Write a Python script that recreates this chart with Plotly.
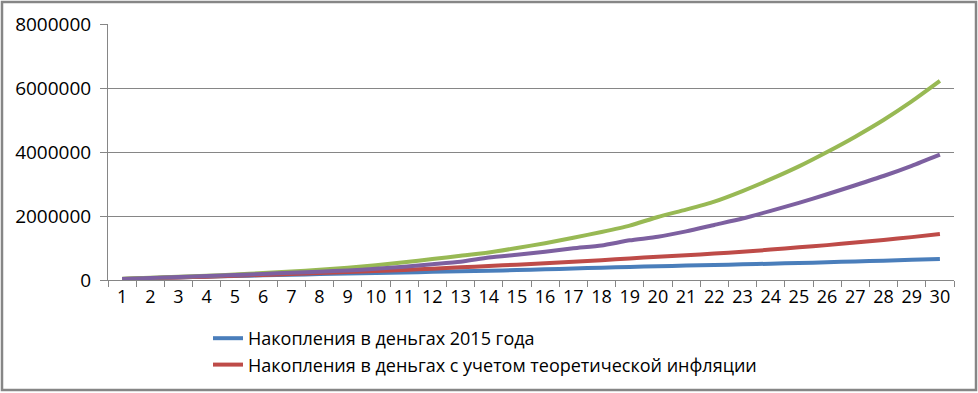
import plotly.graph_objects as go

years = list(range(1, 31))
year_labels = [str(y) for y in years]

blue_name = "Накопления в деньгах 2015 года"
red_name = "Накопления в деньгах с учетом теоретической инфляции"

blue = [30000, 55000, 80000, 105000, 125000, 145000, 165000, 185000, 200000, 220000,
        235000, 255000, 270000, 290000, 310000, 335000, 360000, 385000, 410000, 430000,
        450000, 470000, 490000, 510000, 530000, 555000, 580000, 605000, 630000, 660000]
red = [30000, 55000, 80000, 105000, 130000, 160000, 190000, 220000, 250000, 280000,
       315000, 355000, 395000, 440000, 480000, 525000, 570000, 620000, 670000, 730000,
       775000, 825000, 880000, 950000, 1020000, 1090000, 1170000, 1250000, 1340000, 1440000]
green = [40000, 70000, 100000, 135000, 170000, 215000, 265000, 320000, 385000, 460000,
         555000, 655000, 755000, 860000, 1000000, 1150000, 1320000, 1500000, 1700000, 1970000,
         2200000, 2450000, 2780000, 3150000, 3550000, 4000000, 4480000, 5000000, 5580000, 6220000]
purple = [35000, 65000, 95000, 125000, 155000, 190000, 225000, 260000, 300000, 350000,
          415000, 490000, 570000, 700000, 790000, 880000, 990000, 1080000, 1240000, 1350000,
          1520000, 1720000, 1920000, 2160000, 2410000, 2680000, 2960000, 3250000, 3570000, 3920000]

y_ticks = [0, 2000000, 4000000, 6000000, 8000000]

W, H = 978, 393
ML, MR, MT, MB = 108, 24, 24, 113

fig = go.Figure()
fig.add_trace(go.Scatter(x=year_labels, y=blue, mode="lines", name=blue_name,
                         line=dict(color="#4A7EBB", width=4, shape="spline", smoothing=0.6)))
fig.add_trace(go.Scatter(x=year_labels, y=red, mode="lines", name=red_name,
                         line=dict(color="#BE4B48", width=4, shape="spline", smoothing=0.6)))
fig.add_trace(go.Scatter(x=year_labels, y=green, mode="lines", name="green", showlegend=False,
                         line=dict(color="#98B954", width=4, shape="spline", smoothing=0.6)))
fig.add_trace(go.Scatter(x=year_labels, y=purple, mode="lines", name="purple", showlegend=False,
                         line=dict(color="#7D60A0", width=4, shape="spline", smoothing=0.6)))

pw = W - ML - MR
ph = H - MT - MB
def px_x(p):
    return (p - ML) / pw
def px_y(p):
    return (H - MB - p) / ph

fig.add_shape(type="rect", xref="paper", yref="paper",
              x0=px_x(2), x1=px_x(976), y0=px_y(390), y1=px_y(2),
              line=dict(color="#868686", width=2.5), fillcolor="rgba(0,0,0,0)", layer="below")

font_family = "Open Sans, Lato, DejaVu Sans, sans-serif"

fig.update_layout(
    width=W, height=H,
    margin=dict(l=ML, r=MR, t=MT, b=MB, autoexpand=False),
    paper_bgcolor="white", plot_bgcolor="white",
    font=dict(family=font_family, size=19, color="#000000"),
    showlegend=True,
    legend=dict(xref="container", yref="container", x=208 / W, y=1 - 320 / H,
                xanchor="left", yanchor="top",
                bgcolor="rgba(0,0,0,0)", font=dict(size=18), tracegroupgap=0,
                itemwidth=30),
    xaxis=dict(type="category", tickson="boundaries", ticks="outside", ticklen=6,
               tickcolor="#868686", showline=True, linecolor="#868686", linewidth=1,
               showgrid=False, tickfont=dict(size=18), tickangle=0, range=[-0.5, 29.5]),
    yaxis=dict(range=[0, 8000000], tickvals=y_ticks, ticktext=[str(v) for v in y_ticks],
               ticks="outside", ticklen=7, tickcolor="#868686", showline=True,
               linecolor="#868686", linewidth=1, showgrid=True, gridcolor="#868686",
               gridwidth=1, zeroline=False, tickfont=dict(size=19), ticklabelstandoff=5),
)

fig.write_html("out.html")
